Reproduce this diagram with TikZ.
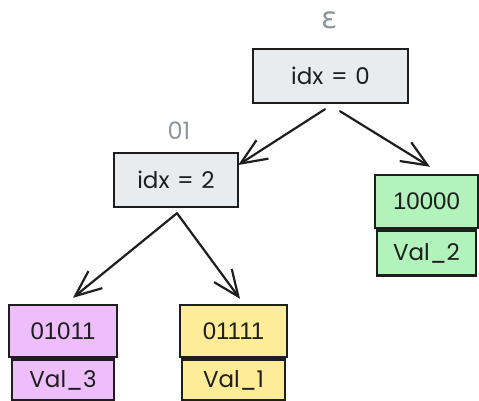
\documentclass[tikz,border=0pt]{standalone}
\usepackage{fontspec}
\setmainfont{Liberation Sans}
\newfontfamily\handfont{Poppins}
\newfontfamily\greekfont{DejaVu Sans}
\usetikzlibrary{arrows.meta}
\definecolor{ink}{HTML}{1E1E1E}
\definecolor{labelgray}{HTML}{8E959C}
\definecolor{innerfill}{HTML}{E9ECEF}
\definecolor{greenfill}{HTML}{B2F2BB}
\definecolor{purplefill}{HTML}{EEBEFA}
\definecolor{yellowfill}{HTML}{FFEC99}
\tikzset{
  box/.style={draw=ink, line width=2.4pt, rectangle, inner sep=0pt,
    font=\fontsize{24}{28}\selectfont, text=ink},
  keybox/.style={box},
  valbox/.style={box, font=\handfont\fontsize{23}{28}\selectfont},
  idxbox/.style={box, fill=innerfill, font=\handfont\fontsize{23}{28}\selectfont},
  prefixlabel/.style={text=labelgray, font=\handfont\fontsize{24}{28}\selectfont, inner sep=0pt},
  treeedge/.style={draw=ink, line width=2.2pt, line cap=round,
    -{Straight Barb[length=26pt,width=22pt,line width=2.2pt]}}
}
\begin{document}
\begin{tikzpicture}[x=1pt,y=-1pt]
\useasboundingbox (0,0) rectangle (479,400);

% internal nodes with their prefixes
\node[idxbox, minimum width=155pt, minimum height=54pt] (root) at (330.5,76) {idx\,\,=\,\,0};
\node[prefixlabel, font=\greekfont\fontsize{30}{30}\selectfont] (eps) at (330,20) {ε};
\node[idxbox, minimum width=124pt, minimum height=54pt] (left) at (176,180) {idx\,\,=\,\,2};
\node[prefixlabel] (pre01) at (179,131) {01};

% leaf 10000
\node[keybox, fill=greenfill, minimum width=103pt, minimum height=53pt] (k2) at (426.5,201.5) {10000};
\node[valbox, fill=greenfill, minimum width=99pt, minimum height=45pt, anchor=north] (v2) at (k2.south) {Val\_2};

% leaf 01011
\node[keybox, fill=purplefill, minimum width=108pt, minimum height=52pt] (k3) at (63,331) {01011};
\node[valbox, fill=purplefill, minimum width=102pt, minimum height=41pt, anchor=north] (v3) at (k3.south) {Val\_3};

% leaf 01111
\node[keybox, fill=yellowfill, minimum width=107pt, minimum height=52pt] (k1) at (233.5,331) {01111};
\node[valbox, fill=yellowfill, minimum width=103pt, minimum height=41pt, anchor=north] (v1) at (k1.south) {Val\_1};

% tree edges
\coordinate (rootL) at ([xshift=-5.5pt,yshift=-5pt]root.south);
\coordinate (rootR) at ([xshift=9.5pt,yshift=-7pt]root.south);
\coordinate (leftB) at ([xshift=1pt,yshift=-5pt]left.south);
\draw[treeedge] (rootL) -- ([xshift=-1pt,yshift=15pt]left.east);
\draw[treeedge] (rootR) -- ([xshift=3.5pt,yshift=7pt]k2.north);
\draw[treeedge] (leftB) -- ([xshift=10pt,yshift=6pt]k3.north);
\draw[treeedge] (leftB) -- ([xshift=6.5pt,yshift=5pt]k1.north);
\end{tikzpicture}
\end{document}
